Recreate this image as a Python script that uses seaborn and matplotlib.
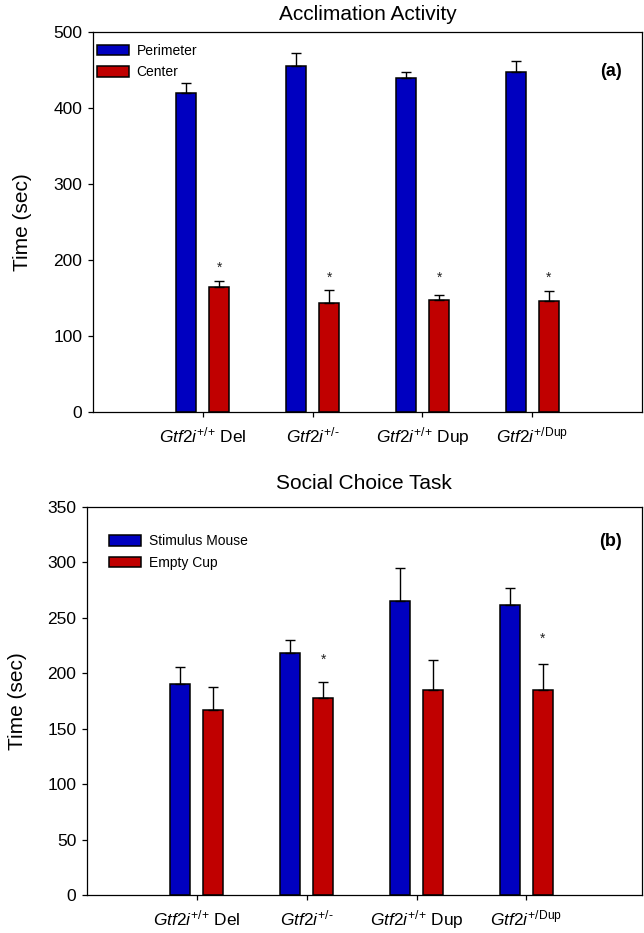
import numpy as np
import pandas as pd
import matplotlib
matplotlib.use("Agg")
import matplotlib.pyplot as plt
import seaborn as sns
from matplotlib.patches import Patch

# genotype labels (mathtext: italic gene name + superscript)
genotypes = [
    r"$\mathit{Gtf2i}^{\text{+/+}}$ Del",
    r"$\mathit{Gtf2i}^{\text{+/-}}$",
    r"$\mathit{Gtf2i}^{\text{+/+}}$ Dup",
    r"$\mathit{Gtf2i}^{\text{+/Dup}}$",
]

# (a) acclimation activity
accl_groups = ["Perimeter", "Center"]
accl_perimeter = [420, 455, 440, 447]
accl_perimeter_err = [13, 17, 8, 15]
accl_center = [164, 144, 147, 146]
accl_center_err = [9, 16, 7, 13]
accl_stars = [None, None, None, None, 190, 177, 177, 177]

# (b) social choice task
social_groups = ["Stimulus Mouse", "Empty Cup"]
social_mouse = [190, 218, 265, 262]
social_mouse_err = [16, 12, 30, 15]
social_cup = [167, 178, 185, 185]
social_cup_err = [21, 14, 27, 23]
social_stars = [None, None, None, None, None, 212, None, 231]

BLUE = "#0000C0"
RED = "#C00000"

sns.set_theme(style="ticks")
plt.rcParams["font.family"] = ["Liberation Sans", "DejaVu Sans"]
plt.rcParams["mathtext.fontset"] = "custom"
plt.rcParams["mathtext.rm"] = "Liberation Sans"
plt.rcParams["mathtext.it"] = "Liberation Sans:italic"
plt.rcParams["mathtext.bf"] = "Liberation Sans:bold"
for key in ["text.color", "axes.labelcolor", "xtick.color", "ytick.color", "axes.edgecolor"]:
    plt.rcParams[key] = "black"


def make_df(groups, a, b):
    return pd.DataFrame({
        "genotype": genotypes * 2,
        "group": [groups[0]] * 4 + [groups[1]] * 4,
        "time": list(a) + list(b),
    })


def draw_panel(ax, df, groups, errs, stars, ymax, ystep, title, title_pad, tag, leg_anchor, tag_pos, xmax):
    sns.barplot(
        data=df, x="genotype", y="time", hue="group",
        order=genotypes, hue_order=groups, palette=[BLUE, RED],
        width=0.606, gap=0.4, saturation=1, errorbar=None,
        edgecolor="black", linewidth=1.1, ax=ax,
    )
    # upper-only error bars
    k = 0
    for cont, err in zip(ax.containers, errs):
        xs = [b.get_x() + b.get_width() / 2 for b in cont]
        ys = [b.get_height() for b in cont]
        ax.errorbar(xs, ys, yerr=[np.zeros(len(err)), err], fmt="none",
                    ecolor="black", elinewidth=1.0, capsize=3.6, capthick=1.0, zorder=1)
        for x in xs:
            if stars[k] is not None:
                ax.text(x, stars[k], "*", ha="center", va="center", fontsize=10, color="#222222")
            k += 1

    ax.set_xlim(-1, xmax)
    ax.set_ylim(0, ymax)
    ax.set_yticks(np.arange(0, ymax + 1, ystep))
    ax.set_xlabel("")
    ax.set_ylabel("Time (sec)", fontsize=15)
    ax.set_title(title, fontsize=15, pad=title_pad)
    for s in ax.spines.values():
        s.set_visible(True)
        s.set_linewidth(0.9)
        s.set_color("black")
    ax.tick_params(axis="both", direction="out", length=3.6, width=0.9, labelsize=12.5, pad=4)
    ax.tick_params(axis="x", pad=6)

    handles = [Patch(facecolor=BLUE, edgecolor="black", linewidth=1.1),
               Patch(facecolor=RED, edgecolor="black", linewidth=1.1)]
    ax.legend(handles, groups, loc="upper left", bbox_to_anchor=leg_anchor,
              frameon=False, fontsize=10, borderaxespad=0, borderpad=0,
              handlelength=2.3, handleheight=0.8, handletextpad=0.55, labelspacing=0.55)
    ax.text(tag_pos[0], tag_pos[1], tag, transform=ax.transAxes, ha="center", va="center",
            fontsize=13, fontweight="bold")


fig = plt.figure(figsize=(6.44, 9.33), dpi=100)
ax1 = fig.add_axes([0.1444, 0.5584, 0.8525, 0.4073])
ax2 = fig.add_axes([0.1351, 0.0407, 0.8613, 0.4159])

draw_panel(ax1, make_df(accl_groups, accl_perimeter, accl_center), accl_groups,
           [accl_perimeter_err, accl_center_err], accl_stars, 500, 100,
           "Acclimation Activity", 9, "(a)", (0.007, 0.969), (0.943, 0.897), 4.0)
draw_panel(ax2, make_df(social_groups, social_mouse, social_cup), social_groups,
           [social_mouse_err, social_cup_err], social_stars, 350, 50,
           "Social Choice Task", 13, "(b)", (0.040, 0.930), (0.944, 0.912), 4.05)

ax1.yaxis.set_label_coords(-0.112, 0.5)
ax2.yaxis.set_label_coords(-0.108, 0.5)

fig.savefig("out.png", dpi=100)
